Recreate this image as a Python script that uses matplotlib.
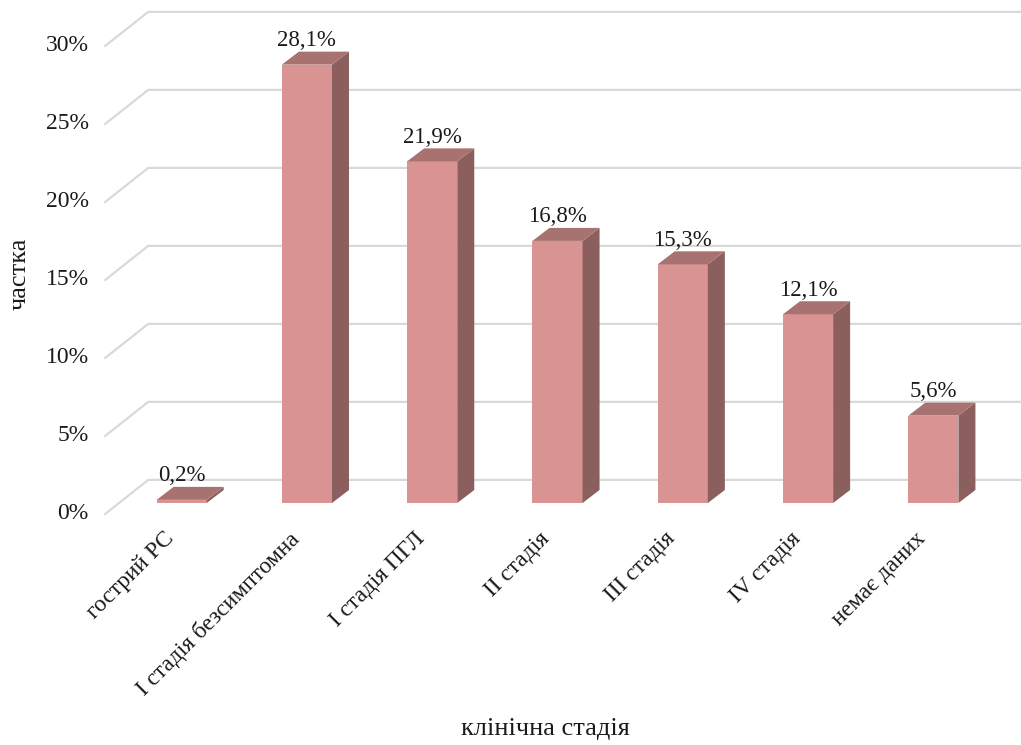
import matplotlib
matplotlib.use("Agg")
import matplotlib.pyplot as plt
from matplotlib.patches import Polygon

plt.rcParams['font.family'] = ['Liberation Serif', 'DejaVu Serif']

categories = ['гострий РС', 'I стадія безсимптомна', 'I стадія ПГЛ',
              'II стадія', 'III стадія', 'IV стадія', 'немає даних']
values = [0.2, 28.1, 21.9, 16.8, 15.3, 12.1, 5.6]
value_labels = ['0,2%', '28,1%', '21,9%', '16,8%', '15,3%', '12,1%', '5,6%']
y_ticks = [0, 5, 10, 15, 20, 25, 30]
y_tick_labels = ['0%', '5%', '10%', '15%', '20%', '25%', '30%']
x_title = 'клінічна стадія'
y_title = 'частка'

FRONT = '#D89392'
SIDE = '#8B5F5E'
TOP = '#A87270'
GRID = '#D9D9D9'
INK = '#1a1a1a'

W, H, DPI = 1021, 745, 100
fig = plt.figure(figsize=(W / DPI, H / DPI), dpi=DPI)

# plane of the bar fronts, in pixels
left_px, right_px = 119, 996
base_px, top_px = 503, 35
ax = fig.add_axes([left_px / W, (H - base_px) / H,
                   (right_px - left_px) / W, (base_px - top_px) / H])
n = len(categories)
ax.set_xlim(-0.5, n - 0.5)
ax.set_ylim(0, 30)
ax.axis('off')

# pixel -> data scale factors
sx = n / (right_px - left_px)
sy = 30 / (base_px - top_px)

# oblique depth of the floor/walls and of each bar
wdx, wdy = 43 * sx, 34 * sy
f = 0.32
bdx, bdy = 17 * sx, 13 * sy
bar_w = 0.4

# gridlines: diagonal on the side wall, then along the back wall
x_end = n - 0.5 + (1 - f) * wdx + 10 * sx
for t, lab in zip(y_ticks, y_tick_labels):
    fx, fy = -0.5 - f * wdx, t - f * wdy
    bx, by = -0.5 + (1 - f) * wdx, t + (1 - f) * wdy
    ax.plot([fx, bx, x_end], [fy, by, by], color=GRID, lw=1.6,
            clip_on=False, zorder=1, solid_joinstyle='miter')
    ax.annotate(lab, (fx, fy), xytext=(-12, 0), textcoords='offset points',
                ha='right', va='center', fontsize=17, color=INK,
                annotation_clip=False)

xs = list(range(n))
ax.bar(xs, values, width=bar_w, color=FRONT, zorder=3, clip_on=False)
for x, v, lab in zip(xs, values, value_labels):
    x0, x1 = x - bar_w / 2, x + bar_w / 2
    side = Polygon([(x1, 0), (x1 + bdx, bdy), (x1 + bdx, v + bdy), (x1, v)],
                   closed=True, facecolor=SIDE, edgecolor='none', zorder=3,
                   clip_on=False)
    top = Polygon([(x0, v), (x1, v), (x1 + bdx, v + bdy), (x0 + bdx, v + bdy)],
                  closed=True, facecolor=TOP, edgecolor='none', zorder=3,
                  clip_on=False)
    ax.add_patch(side)
    ax.add_patch(top)
    ax.annotate(lab, (x, v + bdy), xytext=(0, 8), textcoords='offset points',
                ha='center', va='center', fontsize=16.5, color=INK,
                annotation_clip=False, zorder=5)

# rotated category labels
for x, cat in zip(xs, categories):
    ax.annotate(cat, (x, 0), xytext=(-13, -18), textcoords='offset points',
                ha='right', va='top', rotation=45, rotation_mode='anchor',
                fontsize=16.8, color=INK, annotation_clip=False)

fig.text(545 / W, 1 - 729 / H, x_title, ha='center', va='center',
         fontsize=19, color=INK)
fig.text(20 / W, 1 - 274 / H, y_title, ha='center', va='center',
         rotation=90, fontsize=19, color=INK)

fig.savefig('out.png', dpi=DPI, facecolor='white')
